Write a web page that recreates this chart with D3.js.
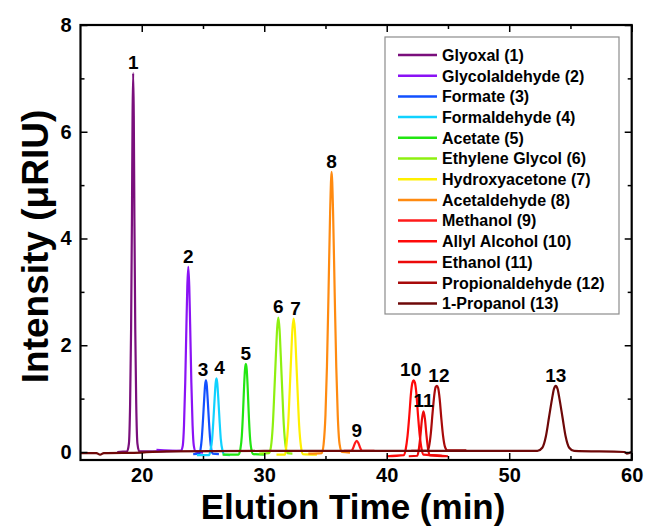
<!DOCTYPE html>
<html>
<head>
<meta charset="utf-8">
<script src="https://cdn.jsdelivr.net/npm/d3@7"></script>
<style>
    body { margin: 0; background: #fff; }
    text { font-family: "Liberation Sans", Arial, sans-serif; font-weight: bold; }
</style>
</head>
<body>
<svg id="drawing_region"></svg>
<script>
// chromatogram traces, [elution time (min), intensity (uRIU)]
const glyoxal = [[18.0,0.00],[18.8,0.01],[18.95,0.15],[19.05,0.9],[19.13,2.3],[19.2,4.4],[19.25,6.3],[19.3,7.1],[19.35,6.3],[19.4,4.4],[19.47,2.3],[19.55,0.9],[19.65,0.15],[19.8,0.01],[21.0,0.01],[23.2,0.02]];
const glycolaldehyde = [[21.2,0.04],[23.2,0.02],[23.35,0.12],[23.45,0.5],[23.55,1.3],[23.65,2.4],[23.72,3.1],[23.8,3.47],[23.88,3.1],[23.95,2.4],[24.05,1.3],[24.15,0.5],[24.25,0.12],[24.4,0.01],[25.0,-0.01]];
const formate = [[24.2,-0.04],[24.7,-0.03],[24.8,0.05],[24.9,0.25],[25.0,0.6],[25.1,1.0],[25.17,1.25],[25.24,1.34],[25.31,1.25],[25.38,1.0],[25.48,0.6],[25.58,0.25],[25.68,0.05],[25.8,-0.03],[26.3,-0.04]];
const formaldehyde = [[24.5,-0.06],[25.5,-0.06],[25.6,0.02],[25.75,0.25],[25.85,0.6],[25.95,1.0],[26.03,1.28],[26.1,1.38],[26.17,1.28],[26.25,1.0],[26.35,0.6],[26.45,0.25],[26.6,0.02],[26.75,-0.05],[27.2,-0.06]];
const acetate = [[26.6,-0.05],[27.9,-0.05],[28.05,0.05],[28.17,0.3],[28.27,0.75],[28.35,1.2],[28.43,1.55],[28.5,1.65],[28.57,1.55],[28.65,1.2],[28.73,0.75],[28.83,0.3],[28.95,0.05],[29.1,-0.04],[30.0,-0.05]];
const ethyleneGlycol = [[29.6,-0.03],[30.4,-0.02],[30.55,0.1],[30.7,0.5],[30.82,1.1],[30.95,1.8],[31.05,2.3],[31.15,2.52],[31.25,2.3],[31.35,1.8],[31.48,1.1],[31.6,0.5],[31.75,0.1],[31.9,-0.02],[32.3,-0.03]];
const hydroxyacetone = [[31.0,-0.05],[31.7,-0.05],[31.8,0.1],[31.95,0.5],[32.07,1.1],[32.2,1.8],[32.3,2.3],[32.4,2.5],[32.5,2.3],[32.6,1.8],[32.73,1.1],[32.85,0.5],[33.0,0.1],[33.15,-0.04],[34.3,-0.05]];
const acetaldehyde = [[33.6,-0.03],[34.7,-0.02],[34.85,0.15],[35.0,0.7],[35.12,1.6],[35.25,3.0],[35.38,4.5],[35.5,5.25],[35.62,4.5],[35.75,3.0],[35.88,1.6],[36.0,0.7],[36.15,0.15],[36.35,0.0],[37.0,-0.01]];
const methanol = [[36.5,0.02],[37.1,0.02],[37.25,0.07],[37.4,0.16],[37.55,0.21],[37.7,0.16],[37.85,0.07],[38.0,0.02],[39.0,0.02]];
const allylAlcohol = [[40.0,-0.08],[41.4,-0.06],[41.55,0.05],[41.7,0.3],[41.85,0.7],[41.98,1.1],[42.1,1.3],[42.2,1.34],[42.3,1.3],[42.42,1.1],[42.55,0.7],[42.7,0.3],[42.85,0.05],[43.0,-0.05],[44.5,-0.07]];
const ethanol = [[41.8,-0.08],[42.5,-0.07],[42.62,0.05],[42.75,0.3],[42.88,0.62],[43.0,0.76],[43.12,0.62],[43.25,0.3],[43.38,0.05],[43.5,-0.06],[45.0,-0.08]];
const propionaldehyde = [[42.0,0.02],[43.3,0.02],[43.45,0.1],[43.6,0.35],[43.75,0.75],[43.9,1.1],[44.0,1.22],[44.1,1.24],[44.2,1.2],[44.32,1.0],[44.45,0.65],[44.6,0.3],[44.75,0.1],[44.95,0.03],[46.5,0.03]];
const propanol = [[15.0,-0.02],[16.3,-0.02],[16.6,-0.05],[16.9,-0.02],[20.0,-0.01],[22.0,0.01],[30.0,0.02],[40.0,0.02],[50.0,0.02],[52.3,0.02],[52.7,0.08],[53.0,0.3],[53.25,0.65],[53.5,1.0],[53.65,1.18],[53.8,1.24],[53.95,1.18],[54.1,1.0],[54.35,0.65],[54.6,0.3],[54.9,0.08],[55.3,0.02],[59.4,0.0],[59.6,-0.03],[60.0,0.0]];

const compounds = ["Glyoxal (1)", "Glycolaldehyde (2)", "Formate (3)", "Formaldehyde (4)", "Acetate (5)",
    "Ethylene Glycol (6)", "Hydroxyacetone (7)", "Acetaldehyde (8)", "Methanol (9)", "Allyl Alcohol (10)",
    "Ethanol (11)", "Propionaldehyde (12)", "1-Propanol (13)"];
const peak_labels = ["1","2","3","4","5","6","7","8","9","10","11","12","13"];
const traces = [glyoxal, glycolaldehyde, formate, formaldehyde, acetate, ethyleneGlycol, hydroxyacetone,
    acetaldehyde, methanol, allylAlcohol, ethanol, propionaldehyde, propanol];

const x_major = [20, 30, 40, 50, 60];
const x_minor = [25, 35, 45, 55];
const y_major = [0, 2, 4, 6, 8];
const y_minor = [1, 3, 5, 7];

const colors = ["#7a0f7c", "#8a12f5", "#1250ff", "#10d2ff", "#22e612", "#8ef010", "#fff000",
    "#ff8a10", "#ff1a1a", "#ff0a0a", "#ec0a0a", "#a80a0a", "#6e0808"];
// small horizontal nudges so neighbouring peak numbers do not touch
const label_dx = [0, 0, -3, 3, 0, 0, 2, 0, 0, -3, 0, 2, 0];

class Chromatogram {

    constructor( config ) {
        this.config = config;
        this.init();
    }

    init() {
        let self = this;

        self.svg = d3.select( self.config.parent )
            .attr('width', self.config.width)
            .attr('height', self.config.height);

        self.inner_width = self.config.width - self.config.margin.left - self.config.margin.right;
        self.inner_height = self.config.height - self.config.margin.top - self.config.margin.bottom;

        self.chart = self.svg.append('g')
            .attr('transform', `translate(${self.config.margin.left}, ${self.config.margin.top})`);

        self.xscale = d3.scaleLinear()
            .domain( [15, 60] )
            .range( [0, self.inner_width] );

        self.yscale = d3.scaleLinear()
            .domain( [-0.15, 8] )
            .range( [self.inner_height, 0] );

        self.line = d3.line()
            .x( d => self.xscale( d[0] ) )
            .y( d => self.yscale( d[1] ) )
            .curve( d3.curveMonotoneX );
    }

    render() {
        let self = this;
        const w = self.inner_width, h = self.inner_height;

        // traces
        self.chart.selectAll('.trace')
            .data( traces )
            .join('path')
            .attr('class', 'trace')
            .attr('d', d => self.line( d ))
            .attr('fill', 'none')
            .attr('stroke', (d, i) => colors[i])
            .attr('stroke-width', 2.2)
            .attr('stroke-linejoin', 'round');

        // peak numbers above each apex
        self.chart.selectAll('.peak')
            .data( traces )
            .join('text')
            .attr('class', 'peak')
            .attr('x', (d, i) => self.xscale( d3.greatest( d, p => p[1] )[0] ) + label_dx[i])
            .attr('y', d => self.yscale( d3.greatest( d, p => p[1] )[1] ) - 4)
            .attr('text-anchor', 'middle')
            .attr('font-size', '19px')
            .text( (d, i) => peak_labels[i] );

        // axes, ticks pointing inwards
        const axis_style = g => {
            g.select('.domain').remove();
            g.selectAll('line').attr('stroke', 'black').attr('stroke-width', 1.5);
            g.selectAll('text').attr('fill', 'black').attr('font-size', '20px')
                .attr('font-family', '"Liberation Sans", Arial, sans-serif').attr('font-weight', 'bold');
        };

        self.chart.append('g')
            .attr('transform', `translate(0, ${h})`)
            .call( d3.axisBottom( self.xscale ).tickValues( x_major ).tickSize( -7 ).tickPadding( 8 ) )
            .call( axis_style );
        self.chart.append('g')
            .attr('transform', `translate(0, ${h})`)
            .call( d3.axisBottom( self.xscale ).tickValues( x_minor ).tickSize( -4 ).tickFormat('') )
            .call( axis_style );
        self.chart.append('g')
            .call( d3.axisTop( self.xscale ).tickValues( x_major ).tickSize( -7 ).tickFormat('') )
            .call( axis_style );
        self.chart.append('g')
            .call( d3.axisTop( self.xscale ).tickValues( x_minor ).tickSize( -4 ).tickFormat('') )
            .call( axis_style );

        self.chart.append('g')
            .call( d3.axisLeft( self.yscale ).tickValues( y_major ).tickSize( -7 ).tickPadding( 9 ) )
            .call( axis_style );
        self.chart.append('g')
            .call( d3.axisLeft( self.yscale ).tickValues( y_minor ).tickSize( -4 ).tickFormat('') )
            .call( axis_style );
        self.chart.append('g')
            .attr('transform', `translate(${w}, 0)`)
            .call( d3.axisRight( self.yscale ).tickValues( y_major ).tickSize( -7 ).tickFormat('') )
            .call( axis_style );
        self.chart.append('g')
            .attr('transform', `translate(${w}, 0)`)
            .call( d3.axisRight( self.yscale ).tickValues( y_minor ).tickSize( -4 ).tickFormat('') )
            .call( axis_style );

        // frame
        self.chart.append('rect')
            .attr('width', w)
            .attr('height', h)
            .attr('fill', 'none')
            .attr('stroke', 'black')
            .attr('stroke-width', 2.2);

        // axis titles
        self.svg.append('text')
            .attr('x', self.config.margin.left + w / 2 - 3)
            .attr('y', 519)
            .attr('text-anchor', 'middle')
            .attr('font-size', '35px')
            .text('Elution Time (min)');

        self.svg.append('text')
            .attr('transform', `translate(48, ${self.config.margin.top + h / 2 + 4}) rotate(-90)`)
            .attr('text-anchor', 'middle')
            .attr('font-size', '37px')
            .text('Intensity (\u03bcRIU)');

        // legend
        const lg = self.chart.append('g')
            .attr('transform', `translate(${self.config.legend.x}, ${self.config.legend.y})`);
        lg.append('rect')
            .attr('width', 234)
            .attr('height', 277)
            .attr('fill', 'white')
            .attr('stroke', '#8c8c8c')
            .attr('stroke-width', 1.2);
        const item = lg.selectAll('.item')
            .data( compounds )
            .join('g')
            .attr('class', 'item')
            .attr('transform', (d, i) => `translate(0, ${18 + i * 20.7})`);
        item.append('line')
            .attr('x1', 13).attr('x2', 52)
            .attr('stroke', (d, i) => colors[i])
            .attr('stroke-width', 2.5);
        item.append('text')
            .attr('x', 57)
            .attr('y', 5.8)
            .attr('font-size', '16px')
            .text( d => d );
    }
}

const config = {
    parent: '#drawing_region',
    width: 647,
    height: 527,
    margin: {top: 25, right: 15.3, bottom: 67, left: 80.5},
    legend: {x: 304.5, y: 12}
};

const plot = new Chromatogram( config );
plot.render();
</script>
</body>
</html>
